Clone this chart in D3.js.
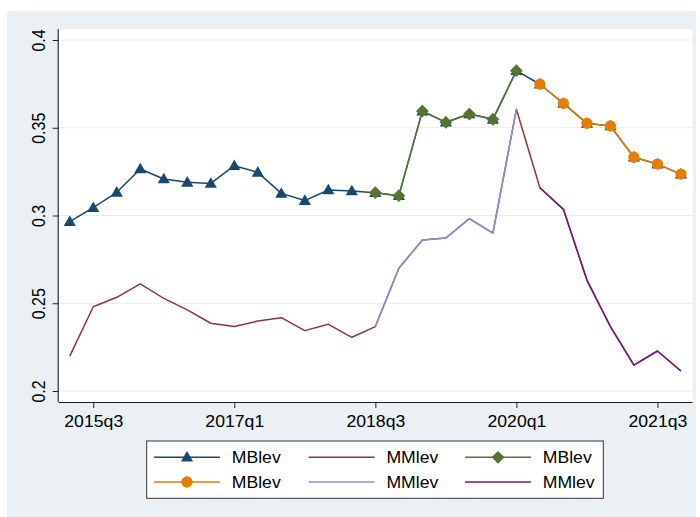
<!DOCTYPE html>
<html><head><meta charset="utf-8">
<script src="https://cdn.jsdelivr.net/npm/d3@7"></script>
<style>html,body{margin:0;padding:0;background:#fff;}svg{display:block;}text{font-family:"Liberation Sans",Arial,Helvetica,sans-serif;fill:#000;}</style>
</head><body>
<svg id="chart" width="700" height="517"></svg>
<script>
const quarters = ["2015q2","2015q3","2015q4","2016q1","2016q2","2016q3","2016q4","2017q1","2017q2","2017q3","2017q4","2018q1","2018q2","2018q3","2018q4","2019q1","2019q2","2019q3","2019q4","2020q1","2020q2","2020q3","2020q4","2021q1","2021q2","2021q3","2021q4"];
const mbLev = [0.2965,0.3045,0.3132,0.3265,0.3208,0.3189,0.3183,0.3284,0.3246,0.3126,0.3085,0.3145,0.3140,0.3130,0.3113,0.3595,0.3531,0.3578,0.3548,0.3825,0.3748,0.3639,0.3525,0.3510,0.3332,0.3293,0.3236];
const mmLev = [0.2199,0.2480,0.2534,0.2610,0.2528,0.2462,0.2386,0.2367,0.2399,0.2418,0.2344,0.2380,0.2306,0.2367,0.2699,0.2860,0.2872,0.2982,0.2899,0.3605,0.3158,0.3035,0.2632,0.2367,0.2148,0.2228,0.2114];
const xTickLabels = ["2015q3","2017q1","2018q3","2020q1","2021q3"];
const yTickValues = [0.2,0.25,0.3,0.35,0.4];
const yTickLabels = ["0.2","0.25","0.3","0.35","0.4"];
const legendLabels = ["MBlev","MMlev","MBlev","MBlev","MMlev","MMlev"];
// periods: pre (2015q2-2018q3), mid (2018q3-2020q1), post (2020q2-2021q4)
const midStart = "2018q3", midEnd = "2020q1", postStart = "2020q2", postEnd = "2021q4";

const svg = d3.select("#chart");
const W = 700, H = 517;
const plot = {l:58.7, r:692.7, t:29, b:402};
const idx = q => quarters.indexOf(q);
const x = d3.scaleLinear().domain([-0.47, 26.5]).range([plot.l, plot.r]);
const y = d3.scaleLinear().domain([0.2, 0.4]).range([391, 40]);

svg.append("rect").attr("x",0).attr("y",0).attr("width",W).attr("height",H).attr("fill","#fff");
svg.append("rect").attr("x",7).attr("y",11).attr("width",689).attr("height",506).attr("fill","#eaf0f3");
svg.append("rect").attr("x",plot.l).attr("y",plot.t).attr("width",plot.r-plot.l).attr("height",plot.b-plot.t).attr("fill","#fff");

// gridlines
svg.append("g").selectAll("line").data(yTickValues).join("line")
  .attr("x1",plot.l).attr("x2",plot.r).attr("y1",d=>y(d)).attr("y2",d=>y(d))
  .attr("stroke","#e6eef1").attr("stroke-width",1.2);

// axes
const xAxis = d3.axisBottom(x).tickValues(xTickLabels.map(idx)).tickFormat(d=>quarters[d]).tickSize(6).tickSizeOuter(0);
const gx = svg.append("g").attr("transform",`translate(0,${plot.b})`).call(xAxis);
gx.select(".domain").attr("d",`M${plot.l},0.5H${plot.r}`).attr("stroke","#222").attr("stroke-width",1.1);
gx.selectAll(".tick line").attr("stroke","#222");
gx.selectAll(".tick text").attr("font-size","16.5px").attr("dy",null).attr("y",25).attr("x",0)
  .attr("transform","scale(1.07,1)");

const yAxis = d3.axisLeft(y).tickValues(yTickValues).tickFormat((d,i)=>yTickLabels[i]).tickSize(6).tickSizeOuter(0);
const gy = svg.append("g").attr("transform",`translate(${plot.l},0)`).call(yAxis);
gy.select(".domain").attr("d",`M-0.5,${plot.t}V${plot.b}`).attr("stroke","#222").attr("stroke-width",1.1);
gy.selectAll(".tick line").attr("stroke","#222");
gy.selectAll(".tick text").attr("x",null).attr("dy",null).attr("text-anchor","middle")
  .attr("font-size","16px")
  .attr("transform","translate(-13.5,0) rotate(-90) scale(1,1.13)");

// series
const colors = {navy:"#1a476f", maroon:"#90353b", green:"#55752f", orange:"#e37e00", lavender:"#938dd2", purple:"#741a7a"};
const seg = (arr, a, b) => d3.range(idx(a), idx(b)+1).map(i => ({i, v: arr[i]}));
const line = d3.line().x(d=>x(d.i)).y(d=>y(d.v));

const series = [
  {data: seg(mbLev, quarters[0], postEnd), color: colors.navy, marker:"tri"},
  {data: seg(mmLev, quarters[0], postEnd), color: colors.maroon, marker:null},
  {data: seg(mbLev, midStart, midEnd), color: colors.green, marker:"dia"},
  {data: seg(mbLev, postStart, postEnd), color: colors.orange, marker:"circ"},
  {data: seg(mmLev, midStart, midEnd), color: colors.lavender, marker:null},
  {data: seg(mmLev, postStart, postEnd), color: colors.purple, marker:null}
];
const triSym = d3.symbol().type(d3.symbolTriangle).size(64);
const diaSym = d3.symbol().type(d3.symbolSquare).size(82);
const circSym = d3.symbol().type(d3.symbolCircle).size(100);
function marker(g, kind, cx, cy, color){
  if(kind==="tri") g.append("path").attr("d",triSym()).attr("transform",`translate(${cx},${cy+0.8})`).attr("fill",color);
  if(kind==="dia") g.append("path").attr("d",diaSym()).attr("transform",`translate(${cx},${cy}) rotate(45)`).attr("fill",color);
  if(kind==="circ") g.append("path").attr("d",circSym()).attr("transform",`translate(${cx},${cy})`).attr("fill",color);
}
series.forEach(s=>{
  const g = svg.append("g");
  g.append("path").attr("d",line(s.data)).attr("fill","none").attr("stroke",s.color).attr("stroke-width",1.5).attr("stroke-linejoin","round");
  if(s.marker) s.data.forEach(d=>marker(g, s.marker, x(d.i), y(d.v), s.color));
});

// legend
const lg = svg.append("g");
lg.append("rect").attr("x",146.7).attr("y",441).attr("width",456.6).attr("height",57.3).attr("fill","#fff").attr("stroke","#333").attr("stroke-width",1);
const colX = [154, 308.7, 465];
const rowY = [457.3, 482];
series.forEach((s,k)=>{
  const c = k%3, r = Math.floor(k/3);
  const x0 = colX[c], yy = rowY[r];
  lg.append("line").attr("x1",x0).attr("x2",x0+66).attr("y1",yy).attr("y2",yy).attr("stroke",s.color).attr("stroke-width",1.5);
  if(s.marker) marker(lg, s.marker, x0+33, yy, s.color);
  lg.append("text").attr("transform",`translate(${x0+77.7},${yy+6}) scale(1.07,1)`).attr("font-size","16.5px").text(legendLabels[k]);
});
</script>
</body></html>
